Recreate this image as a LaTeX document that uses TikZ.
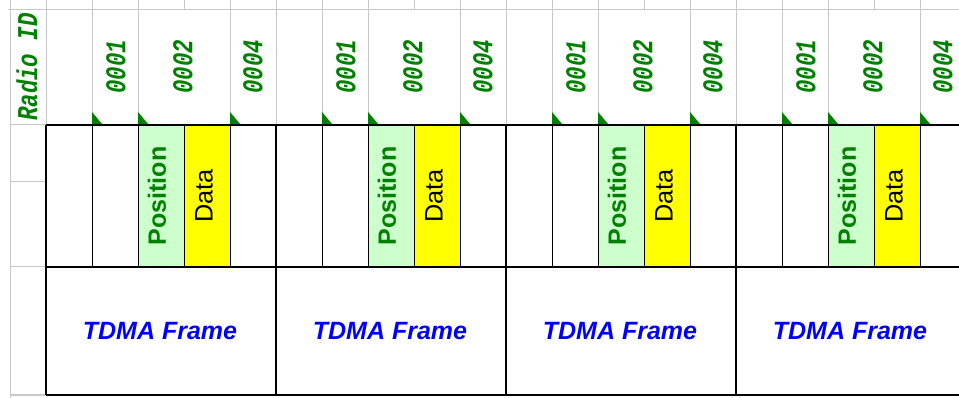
\documentclass[tikz,border=0pt]{standalone}
\usepackage{fontspec}
\setmainfont{Liberation Sans}
\newfontfamily\hdrfont[FakeStretch=0.78]{Liberation Mono}
\definecolor{hdrgreen}{HTML}{008000}
\definecolor{posfill}{HTML}{CCFFCC}
\definecolor{datfill}{HTML}{FFFF00}
\definecolor{tdmablue}{HTML}{0000FF}
\definecolor{gridgray}{HTML}{C8C8C8}
\begin{document}
\begin{tikzpicture}[x=0.75pt,y=-0.75pt,
  gridline/.style={draw=gridgray,line width=0.75pt},
  heavyline/.style={draw=black,line width=1.9pt},
  slotline/.style={draw=black,line width=0.75pt},
  hdr/.style={rotate=90,inner sep=0pt,text=hdrgreen,font=\hdrfont\fontsize{21.5pt}{23pt}\selectfont\bfseries\itshape},
  postext/.style={rotate=90,inner sep=0pt,text=hdrgreen,font=\fontsize{18.75pt}{20pt}\selectfont\bfseries},
  dattext/.style={rotate=90,inner sep=0pt,text=black,font=\fontsize{19pt}{20pt}\selectfont},
  tdmatext/.style={inner sep=0pt,text=tdmablue,font=\fontsize{18.75pt}{20pt}\selectfont\bfseries\itshape},
  marker/.style={fill=hdrgreen}
]
\clip (0,0) rectangle (959,398);
\fill[white] (0,0) rectangle (959,398);
% cell fills
\foreach \k in {0,...,3}{
  \fill[posfill] ({138+230*\k},125) rectangle ({184+230*\k},267);
  \fill[datfill] ({184+230*\k},125) rectangle ({230+230*\k},267);
}
% gray grid
\draw[gridline] (8,10) -- (959,10);
\draw[gridline] (10,0) -- (10,398);
\foreach \i in {0,...,20}{
  \draw[gridline] ({46+46*\i},0) -- ({46+46*\i},10);
  \pgfmathtruncatemacro\m{mod(\i,5)}
  \ifnum\m=3\relax\else
    \draw[gridline] ({46+46*\i},10) -- ({46+46*\i},125);
  \fi
}
\foreach \yy in {125,182,267,395}{
  \draw[gridline] (10,\yy) -- (46,\yy);
}
% thin slot lines
\foreach \k in {0,...,3}{
  \foreach \j in {1,...,4}{
    \draw[slotline] ({46+230*\k+46*\j},125) -- ({46+230*\k+46*\j},267);
  }
}
% heavy lines
\draw[heavyline] (46,125) -- (959,125);
\draw[heavyline] (46,267) -- (959,267);
\draw[heavyline] (46,395) -- (959,395);
\foreach \k in {0,...,4}{
  \draw[heavyline] ({46+230*\k},125) -- ({46+230*\k},395);
}
% markers
\foreach \k in {0,...,4}{
  \foreach \dx in {92,138,230}{
    \fill[marker] ({\dx+230*\k},112) -- ({\dx+230*\k},124) -- ({\dx+230*\k+10},124) -- cycle;
  }
}
% texts
\node[hdr] (radioid) at (27,67) {Radio ID};
\foreach \k in {0,...,3}{
  \node[hdr] (ida\k) at ({116+230*\k},67) {0001};
  \node[hdr] (idb\k) at ({183+230*\k},67) {0002};
  \node[hdr] (idc\k) at ({253+230*\k},67) {0004};
  \node[postext] (pos\k) at ({157+230*\k},196) {Position};
  \node[dattext] (dat\k) at ({204+230*\k},196) {Data};
  \node[tdmatext] (tdma\k) at ({160+230*\k},331) {TDMA Frame};
}
\end{tikzpicture}
\end{document}
